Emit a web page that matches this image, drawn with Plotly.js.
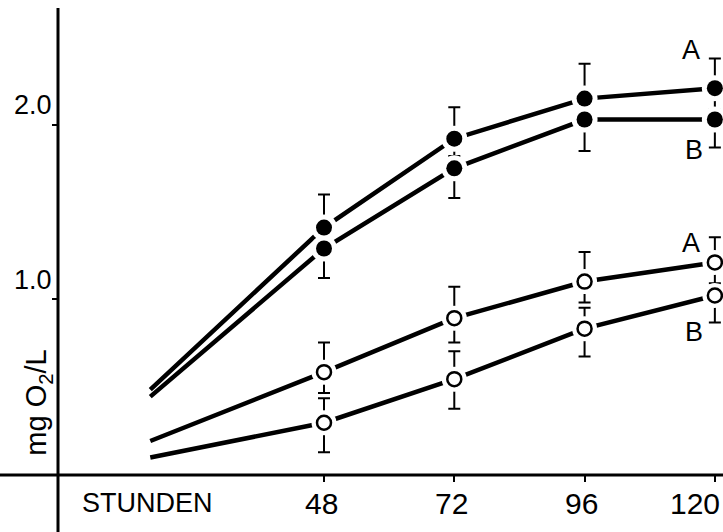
<!DOCTYPE html>
<html>
<head>
<meta charset="utf-8">
<script src="https://cdn.plot.ly/plotly-3.0.1.min.js"></script>
<style>html,body{margin:0;padding:0;background:#fff;}#chart{width:723px;height:532px;}</style>
</head>
<body>
<div id="chart"></div>
<script>
// ---- data ----
var hours = [16, 48, 72, 96, 120];          // first point = start of hand-drawn line (no marker)
var tickHours = [48, 72, 96, 120];
var tickHourLabels = ["48", "72", "96", "120"];
var yTickVals = [1, 2];
var yTickLabels = ["1.0", "2.0"];

var closedA = [0.48, 1.41, 1.92, 2.15, 2.21];
var closedA_plus = [0.19, 0.18, 0.20, 0.17];
var closedA_minus = [0, 0.10, 0, 0.12];

var closedB = [0.44, 1.29, 1.75, 2.03, 2.03];
var closedB_plus = [0, 0, 0, 0];
var closedB_minus = [0.17, 0.17, 0.18, 0.16];

var openA = [0.185, 0.58, 0.89, 1.10, 1.21];
var openA_plus = [0.17, 0.18, 0.17, 0.145];
var openA_minus = [0.12, 0.14, 0.12, 0.12];

var openB = [0.09, 0.29, 0.54, 0.83, 1.02];
var openB_plus = [0.14, 0.16, 0.12, 0];
var openB_minus = [0.17, 0.17, 0.16, 0.155];

var seriesLabels = ["A", "B", "A", "B"];
var xTitle = "STUNDEN";
var yTitle = "mg O<sub>2</sub>/L";

// ---- build ----
var FONT = "Liberation Sans, Arial, sans-serif";
var series = [
  {y: closedA, p: closedA_plus, m: closedA_minus, filled: true},
  {y: closedB, p: closedB_plus, m: closedB_minus, filled: true},
  {y: openA, p: openA_plus, m: openA_minus, filled: false},
  {y: openB, p: openB_plus, m: openB_minus, filled: false}
];
var traces = [];
series.forEach(function (s) {
  traces.push({x: hours, y: s.y, mode: "lines", line: {color: "#000", width: 4.5},
    hoverinfo: "skip", showlegend: false});
});
series.forEach(function (s) {
  traces.push({x: hours.slice(1), y: s.y.slice(1), mode: "markers",
    marker: {color: "#fff", size: s.filled ? 26 : 25, line: {width: 0}},
    error_y: {type: "data", symmetric: false, array: s.p, arrayminus: s.m,
      color: "#000", thickness: 2, width: 6},
    hoverinfo: "skip", showlegend: false});
});
series.forEach(function (s) {
  traces.push({x: hours.slice(1), y: s.y.slice(1), mode: "markers",
    marker: s.filled ? {color: "#000", size: 16, line: {width: 0}}
                     : {color: "#fff", size: 14, line: {color: "#000", width: 2.5}},
    hoverinfo: "skip", showlegend: false});
});

var labelPos = [[115.6, 2.43], [116.2, 1.855], [115.6, 1.32], [116.2, 0.81]];
var annotations = seriesLabels.map(function (t, i) {
  return {x: labelPos[i][0], y: labelPos[i][1], xref: "x", yref: "y", text: t,
    showarrow: false, font: {family: FONT, size: 27, color: "#000"}};
});
// x tick labels (last one nudged left so it stays inside the page, as in the original)
tickHours.forEach(function (h, i) {
  annotations.push({x: h, y: -0.06, xref: "x", yref: "paper", text: tickHourLabels[i],
    showarrow: false, xanchor: "center", yanchor: "middle",
    xshift: i === tickHours.length - 1 ? -20 : -3,
    font: {family: FONT, size: 30, color: "#000"}});
});
annotations.push({x: 0.135, y: -0.06, xref: "paper", yref: "paper", text: xTitle,
  showarrow: false, xanchor: "center", yanchor: "middle",
  font: {family: FONT, size: 27, color: "#000"}});
annotations.push({x: -0.03, y: 0.155, xref: "paper", yref: "paper", text: yTitle,
  showarrow: false, textangle: -90, xanchor: "center", yanchor: "middle",
  font: {family: FONT, size: 29, color: "#000"}});

var layout = {
  width: 723, height: 532,
  margin: {l: 58, r: 0, t: 8, b: 57, pad: 0},
  paper_bgcolor: "#fff", plot_bgcolor: "#fff",
  showlegend: false,
  xaxis: {range: [-1, 121.5], showgrid: false, zeroline: false, showline: false,
    tickmode: "array", tickvals: tickHours, ticktext: tickHourLabels,
    showticklabels: false,
    ticks: "outside", ticklen: 6, tickwidth: 2, tickcolor: "#000"},
  yaxis: {range: [-0.01, 2.67], showgrid: false, zeroline: false, showline: false,
    tickmode: "array", tickvals: yTickVals, ticktext: yTickLabels,
    ticks: "outside", ticklen: 5, tickwidth: 2, tickcolor: "#000",
    ticklabelposition: "outside top",
    tickfont: {family: FONT, size: 27, color: "#000"}},
  shapes: [
    {type: "line", xref: "paper", yref: "paper", x0: -0.09, x1: 1.01, y0: 0, y1: 0,
      line: {color: "#000", width: 3}},
    {type: "line", xref: "paper", yref: "paper", x0: 0, x1: 0, y0: -0.13, y1: 1.0,
      line: {color: "#000", width: 3}}
  ],
  annotations: annotations
};
Plotly.newPlot("chart", traces, layout, {staticPlot: true, displayModeBar: false});
</script>
</body>
</html>
